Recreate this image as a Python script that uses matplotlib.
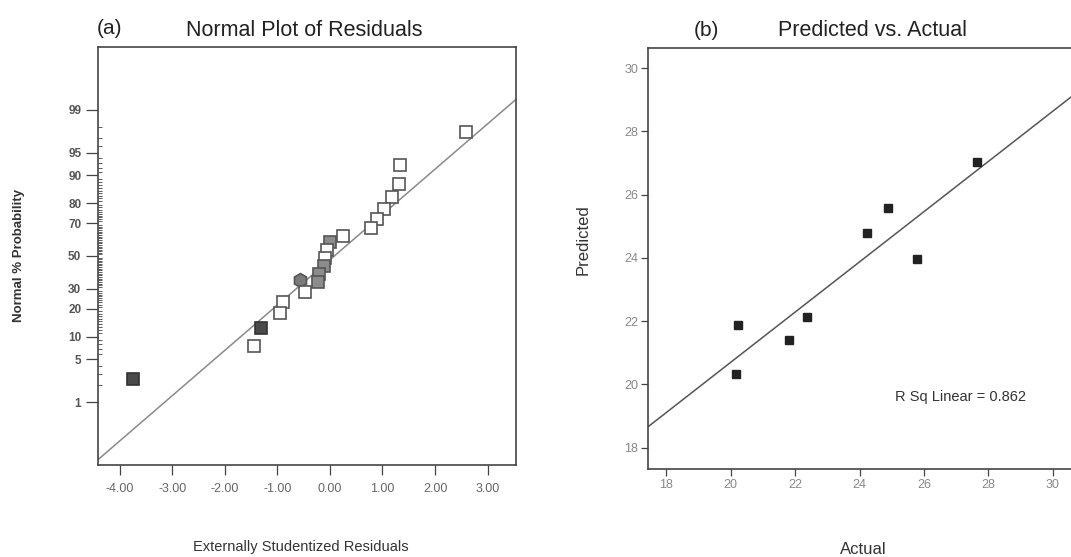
import numpy as np
import matplotlib
matplotlib.use('Agg')
import matplotlib.pyplot as plt
from statistics import NormalDist

plt.rcParams['font.family'] = ['Liberation Sans', 'DejaVu Sans']

# (a) normal plot of residuals
resid = [2.59, 1.34, 1.31, 1.18, 1.02, 0.89, 0.79, 0.25, 0.00, -0.05, -0.095,
         -0.11, -0.20, -0.22, -0.57, -0.475, -0.90, -0.94, -1.31, -1.44, -3.75]
prob = [97.6, 92.6, 87.5, 82.5, 77.2, 72.1, 67.0, 62.5, 58.5, 53.5, 49.0,
        43.5, 38.5, 34.0, 35.2, 28.3, 23.1, 18.1, 12.7, 7.6, 2.5]
kind = ['open', 'open', 'open', 'open', 'open', 'open', 'open', 'open', 'gray', 'open', 'open',
        'gray', 'gray', 'gray', 'hex', 'open', 'open', 'open', 'dark', 'open', 'dark']
ref_line_x = [-4.41, 3.53]
ref_line_p = [0.06, 99.35]   # percent at the two ends of the guide line
prob_ticks = [1, 5, 10, 20, 30, 50, 70, 80, 90, 95, 99]
resid_ticks = [-4, -3, -2, -1, 0, 1, 2, 3]

# (b) predicted vs actual
actual = [27.63, 24.89, 24.24, 25.78, 20.23, 20.17, 21.80, 22.37]
predicted = [27.02, 25.57, 24.78, 23.96, 21.88, 20.34, 21.41, 22.14]
pa_ticks = [18, 20, 22, 24, 26, 28, 30]
r2_text = 'R Sq Linear = 0.862'

nd = NormalDist()
z = lambda p: nd.inv_cdf(p / 100.)

W, H = 1071, 557
fig = plt.figure(figsize=(W / 100, H / 100), dpi=100)

def px(x0, y0, x1, y1):
    return [x0 / W, 1 - y1 / H, (x1 - x0) / W, (y1 - y0) / H]

tick_col = '#666666'
spine_col = '#444444'

# ---------------- panel (a)
ax = fig.add_axes(px(98, 46.6, 515.5, 465.4))
ax.set_xlim(-4.41, 3.53)
ax.set_ylim(-3.33, 3.33)
ax.plot(ref_line_x, [z(p) for p in ref_line_p], color='#8a8a8a', lw=1.1, zorder=2)

styles = {'open': dict(marker='s', mfc='white', mec='#555555', ms=8),
          'gray': dict(marker='s', mfc='#8c8c8c', mec='#555555', ms=8),
          'dark': dict(marker='s', mfc='#4a4a4a', mec='#333333', ms=8),
          'hex': dict(marker='h', mfc='#7a7a7a', mec='#555555', ms=10)}
for xv, pv, k in zip(resid, prob, kind):
    ax.plot(xv, z(pv), ls='none', mew=1.2, zorder=3, **styles[k])

ax.set_yticks([z(p) for p in prob_ticks])
ax.set_yticklabels([str(p) for p in prob_ticks])
minor = [p for p in range(2, 99) if p not in prob_ticks]
ax.set_yticks([z(p) for p in minor], minor=True)
ax.set_xticks(resid_ticks)
ax.set_xticklabels(['%.2f' % t for t in resid_ticks])
ax.tick_params(axis='y', which='major', length=9, width=0.9, color=spine_col,
               labelsize=8.5, labelcolor='#555555', pad=3)
ax.tick_params(axis='y', which='minor', direction='in', length=3, width=0.6, color=spine_col)
ax.tick_params(axis='x', length=7, width=0.9, color=spine_col, labelsize=9,
               labelcolor=tick_col, pad=6)
for lab in ax.get_yticklabels():
    lab.set_fontweight('bold')
for s in ax.spines.values():
    s.set_color(spine_col)
    s.set_linewidth(1.2)

fig.text(110 / W, 1 - 29 / H, '(a)', fontsize=15, ha='center', va='center', color='#222222')
fig.text(304 / W, 1 - 30 / H, 'Normal Plot of Residuals', fontsize=15.5, ha='center', va='center', color='#222222')
fig.text(19 / W, 1 - 255 / H, 'Normal % Probability', rotation=90, fontsize=9.5, fontweight='bold',
         ha='center', va='center', color='#333333')
fig.text(301 / W, 1 - 547 / H, 'Externally Studentized Residuals', fontsize=10.5,
         ha='center', va='center', color='#333333')

# ---------------- panel (b)
bx = fig.add_axes(px(648, 48, 1071, 469.4))
bx.set_xlim(17.44, 30.56)
bx.set_ylim(17.31, 30.64)
bx.plot(actual, predicted, ls='none', marker='s', ms=5.5, mfc='#222222', mec='#222222', zorder=3)
coef = np.polyfit(actual, predicted, 1)
lx = np.array(bx.get_xlim())
bx.plot(lx, np.polyval(coef, lx), color='#555555', lw=1.1, zorder=2)
bx.text(27.14, 19.6, r2_text, fontsize=10.5, ha='center', va='center', color='#333333')
bx.set_xticks(pa_ticks)
bx.set_yticks(pa_ticks)
bx.tick_params(axis='both', length=5, width=0.9, color=spine_col, labelsize=9,
               labelcolor='#888888', pad=2)
for name, s in bx.spines.items():
    s.set_color(spine_col)
    s.set_linewidth(1.2)
bx.spines['right'].set_visible(False)

fig.text(706 / W, 1 - 30 / H, '(b)', fontsize=15, ha='center', va='center', color='#222222')
fig.text(872 / W, 1 - 30 / H, 'Predicted vs. Actual', fontsize=15.5, ha='center', va='center', color='#222222')
fig.text(583 / W, 1 - 240 / H, 'Predicted', rotation=90, fontsize=12, ha='center', va='center', color='#333333')
fig.text(863 / W, 1 - 549 / H, 'Actual', fontsize=12, ha='center', va='center', color='#333333')

fig.savefig('out.png', dpi=100)
plt.close()
